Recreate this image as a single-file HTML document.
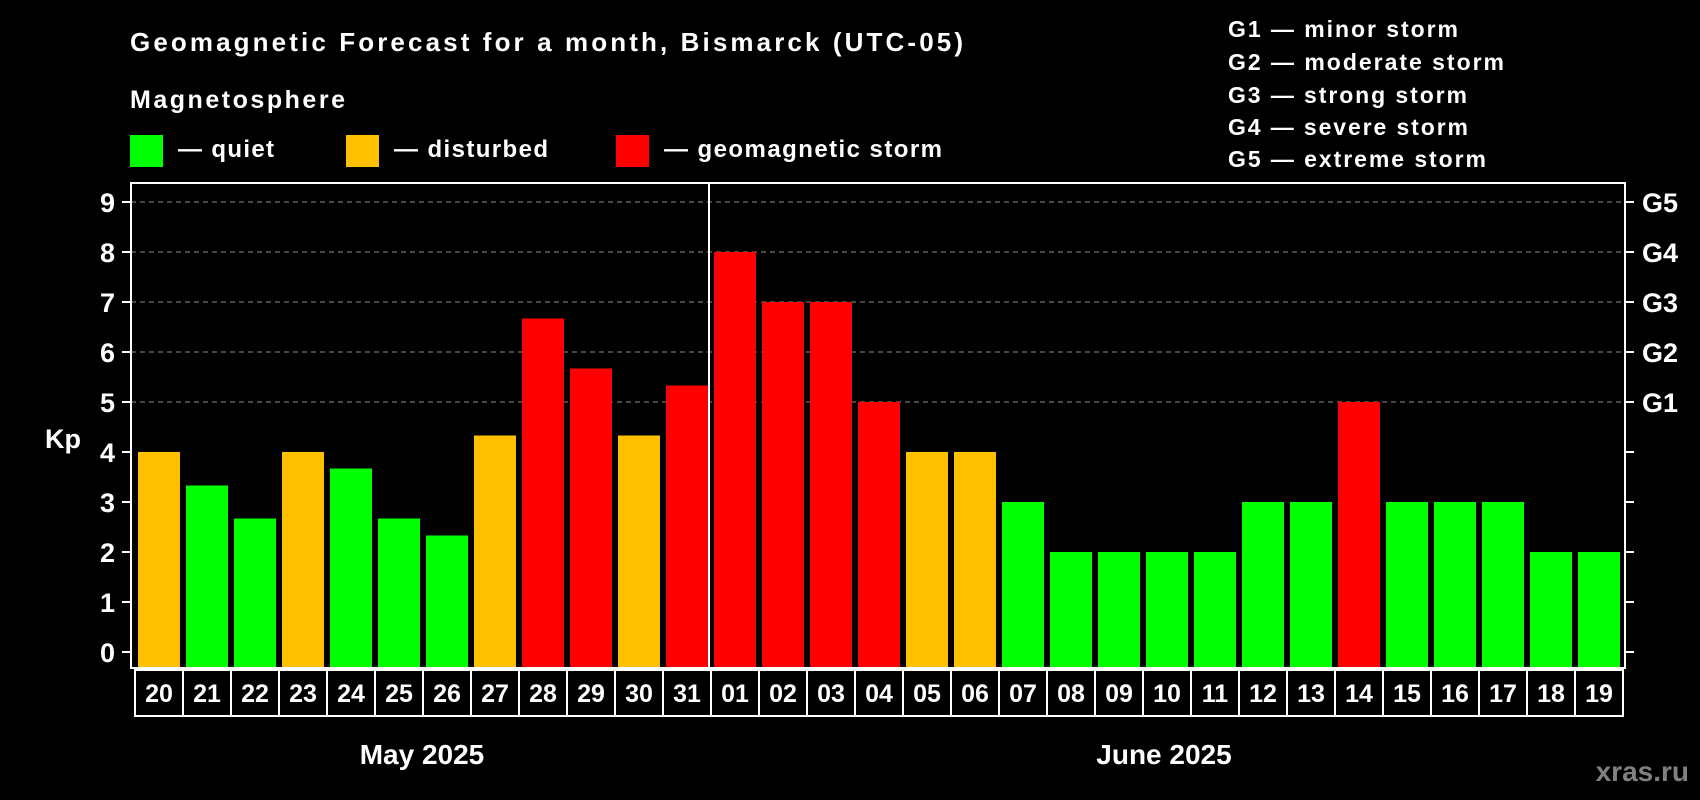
<!DOCTYPE html>
<html><head><meta charset="utf-8"><style>
html,body{margin:0;padding:0;background:#000;}
svg{display:block;font-family:"Liberation Sans",sans-serif;font-weight:bold;}
</style></head><body>
<svg id="chart" width="1700" height="800" viewBox="0 0 1700 800">
<rect width="1700" height="800" fill="#000"/>
<text x="130" y="51" fill="#fff" font-size="26" textLength="833">Geomagnetic Forecast for a month, Bismarck (UTC-05)</text>
<text x="130" y="108" fill="#fff" font-size="25" textLength="215">Magnetosphere</text>
<g><rect x="130" y="135" width="33" height="32" fill="#00ff00"/><text x="178" y="157" fill="#fff" font-size="24" textLength="96">— quiet</text></g>
<g><rect x="346" y="135" width="33" height="32" fill="#ffc000"/><text x="394" y="157" fill="#fff" font-size="24" textLength="154">— disturbed</text></g>
<g><rect x="616" y="135" width="33" height="32" fill="#ff0000"/><text x="664" y="157" fill="#fff" font-size="24" textLength="278">— geomagnetic storm</text></g>
<g fill="#fff" font-size="23">
<text x="1228" y="37" textLength="230">G1 — minor storm</text>
<text x="1228" y="70" textLength="276">G2 — moderate storm</text>
<text x="1228" y="103" textLength="239">G3 — strong storm</text>
<text x="1228" y="135" textLength="240">G4 — severe storm</text>
<text x="1228" y="167" textLength="258">G5 — extreme storm</text>
</g>
<g id="grid"></g><g id="bars"></g><g id="axes"></g><g id="dates"></g>
<text x="63" y="448" fill="#fff" font-size="27" text-anchor="middle">Kp</text>
<text x="422" y="764" fill="#fff" font-size="28" text-anchor="middle">May 2025</text>
<text x="1164" y="764" fill="#fff" font-size="28" text-anchor="middle">June 2025</text>
<text x="1689" y="781" fill="#808080" font-size="28" text-anchor="end">xras.ru</text>
</svg>
<script>
const days = ["20","21","22","23","24","25","26","27","28","29","30","31","01","02","03","04","05","06","07","08","09","10","11","12","13","14","15","16","17","18","19"];
const kpValues = [4,3.33,2.67,4,3.67,2.67,2.33,4.33,6.67,5.67,4.33,5.33,8,7,7,5,4,4,3,2,2,2,2,3,3,5,3,3,3,2,2];
const yTicks = [0,1,2,3,4,5,6,7,8,9];
const gLabels = ["G1","G2","G3","G4","G5"];
const gLevels = [5,6,7,8,9];
const monthSplit = 12;

const NS="http://www.w3.org/2000/svg";
const L=131,R=1625,T=183,B=668,X0=135,SLOT=48,BW=42;
const y=v=>652-v*50;
const x=i=>X0+i*SLOT;
function mk(tag,attrs,parent,txt){const e=document.createElementNS(NS,tag);for(const k in attrs)e.setAttribute(k,attrs[k]);if(txt!==undefined)e.textContent=txt;parent.appendChild(e);return e;}
const grid=document.getElementById('grid'),bars=document.getElementById('bars'),axes=document.getElementById('axes'),dates=document.getElementById('dates');
gLevels.forEach((v,i)=>{
  const g=mk('line',{x1:L,x2:R,y1:y(v),y2:y(v),stroke:'#8c8c8c','stroke-width':1,'stroke-dasharray':'5,4'},grid);
  
  
  const t=mk('text',{x:1642,y:y(v)+10,fill:'#fff','font-size':27},axes,gLabels[i]);
  
  
});
kpValues.forEach((v,i)=>{
  const c=v>=5?'#ff0000':(v>=4?'#ffc000':'#00ff00');
  const b=mk('rect',{x:x(i)+3,y:y(v),width:BW,height:(B-1)-y(v),fill:c},bars);
  
  
  const r=mk('rect',{x:x(i),y:670,width:SLOT,height:46,fill:'none',stroke:'#fff','stroke-width':2},dates);
  
  
  const t=mk('text',{x:x(i)+SLOT/2,y:702,fill:'#fff','font-size':25,'text-anchor':'middle'},dates,days[i]);
  
  
});
yTicks.forEach(v=>{
  const tl=mk('line',{x1:122,x2:L,y1:y(v),y2:y(v),stroke:'#fff','stroke-width':2},axes);
  
  
  const tr=mk('line',{x1:R,x2:1634,y1:y(v),y2:y(v),stroke:'#fff','stroke-width':2},axes);
  
  
  const t=mk('text',{x:115,y:y(v)+10,fill:'#fff','font-size':27,'text-anchor':'end'},axes,String(v));
  
  
});
const fr=mk('rect',{x:L,y:T,width:R-L,height:B-T,fill:'none',stroke:'#fff','stroke-width':2},axes);


const dv=mk('line',{x1:x(monthSplit)-2,x2:x(monthSplit)-2,y1:T,y2:B,stroke:'#fff','stroke-width':2},axes);


</script>
</body></html>
